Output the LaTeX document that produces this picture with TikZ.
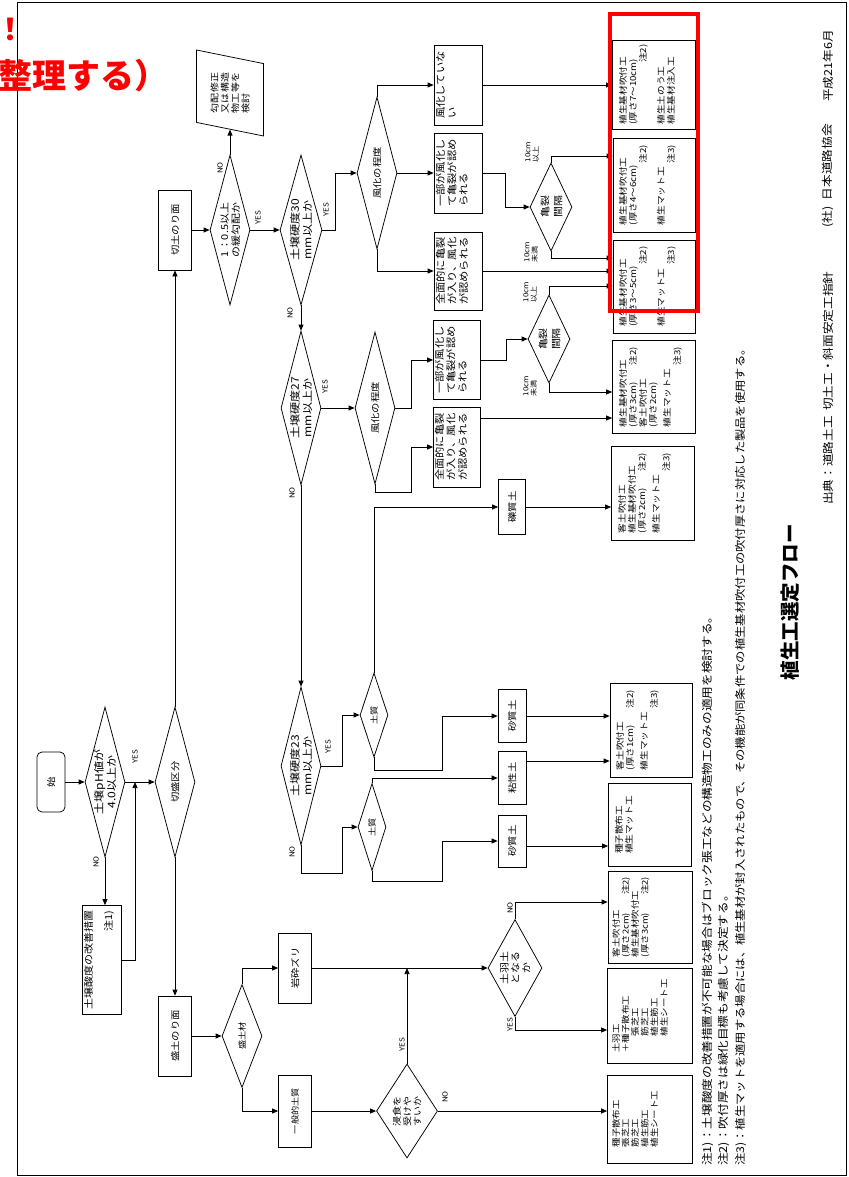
\documentclass[tikz,border=0pt]{standalone}
\usepackage{fontspec}
\setmainfont{Noto Sans CJK JP}[FakeStretch=1.15]
\newfontfamily\plainfont{Noto Sans CJK JP}
\usetikzlibrary{shapes.geometric,arrows.meta}
\newcommand\Tc[1]{\raisebox{-0.4em}{\makebox[0pt]{\begin{tabular}{@{}c@{}}#1\end{tabular}}}}
\newcommand\Tl[1]{\raisebox{-0.4em}{\makebox[0pt]{\begin{tabular}{@{}l@{}}#1\end{tabular}}}}
\newcommand\Tt[2]{\raisebox{#1}{\makebox[0pt]{\begin{tabular}[t]{@{}l@{}}#2\end{tabular}}}}
\newcommand\rr[1]{\makebox[80pt][r]{#1}}
\newcommand\lr[2]{\makebox[80pt][l]{#1\hfill#2}}
\tikzset{
  lw/.style={line width=0.75pt},
  sz/.style 2 args={minimum width=#2, minimum height=#1},
  bx/.style={draw, lw, rectangle, rotate=90, inner sep=0pt, text height=0pt, text depth=0pt},
  dm/.style={draw, lw, diamond, rotate=90, inner sep=0pt, text height=0pt, text depth=0pt},
  lb/.style={rotate=90, inner sep=0pt, font=\fontsize{7}{8}\selectfont},
  ar/.style={lw, -{Triangle[length=6pt,width=5pt]}},
  fA/.style={font=\fontsize{8.4}{10}\selectfont},
  fH/.style={font=\fontsize{8.2}{9}\selectfont},
  fB/.style={font=\fontsize{9.8}{11.5}\selectfont},
  fD/.style={font=\fontsize{10.5}{12.5}\selectfont},
  fS/.style={font=\fontsize{9}{11}\selectfont},
  note/.style={rotate=90, anchor=west, inner sep=0pt, font=\fontsize{11}{11}\selectfont},
}
\begin{document}
\begin{tikzpicture}[x=1pt,y=-1pt]
\useasboundingbox (0,0) rectangle (848,1177);
\draw[line width=1pt] (17,3) rectangle (846,1175);

% level coordinates
\coordinate (y156) at (0,156);
\coordinate (y258) at (0,258);
\coordinate (y286) at (0,286);
\coordinate (y392) at (0,392);
\coordinate (y418) at (0,418);
\coordinate (y761) at (0,761);
\coordinate (y846) at (0,846);
\coordinate (y902) at (0,902);
\coordinate (y1030) at (0,1030);
\coordinate (j1) at (135,782);

% left column
\node[bx, rounded corners=5pt, sz={28}{60}, fS] (start) at (51,782) {\Tc{始}};
\node[dm, sz={40}{150}, fD] (ph) at (105,782) {\Tc{土壌pH値が\\4.0以上か}};
\node[dm, sz={40}{150}, fS] (kirimori) at (175,782) {\Tc{切盛区分}};
\node[bx, sz={39}{109}, font=\fontsize{9.6}{12}\selectfont] (kaizen) at (102,960) {\Tt{10pt}{土壌酸度の改善措置\\[8pt]\makebox[99pt][r]{注1)}}};
\node[bx, sz={33}{80}, fS] (kiri) at (175,230) {\Tc{切土のり面}};
\node[bx, sz={33}{80}, fS] (mori) at (175,1036) {\Tc{盛土のり面}};

% cut slope branch
\node[dm, sz={40}{150}, font=\fontsize{9.5}{11}\selectfont] (d05) at (230,230) {\Tc{1：0.5以上\\の緩勾配か}};
\node[draw, lw, trapezium, rotate=90, trapezium left angle=77, trapezium right angle=103,
      trapezium stretches=true, minimum width=86, minimum height=67, inner sep=0pt,
      text height=1pt, text depth=1pt, font=\fontsize{8.7}{10}\selectfont] (para) at (230,93)
      {\makebox[2pt]{\Tl{勾配修正\\又は構造\\物工等を\\検討}}};
\node[dm, sz={42}{150}, fD] (d30) at (301,230) {\Tc{土壌硬度30\\mm以上か}};
\node[dm, sz={40}{152}, fS] (fk1) at (377,173) {\Tc{風化の程度}};
\node[bx, sz={48}{80}, fB] (nashi) at (458,85) {\Tt{14pt}{風化していな\\い}};
\node[bx, sz={48}{80}, fB] (ib1) at (458,173) {\Tt{14pt}{一部が風化し\\て亀裂が認め\\られる}};
\node[bx, sz={48}{78}, fB] (zm1) at (458,271) {\Tt{14pt}{全面的に亀裂\\が入り、風化\\が認められる}};
\node[dm, sz={42}{88}, font=\fontsize{9.5}{13}\selectfont] (kr1) at (551,207) {\Tc{亀裂\\間隔}};

\node[dm, sz={40}{154}, fD] (d27) at (301,408) {\Tc{土壌硬度27\\mm以上か}};
\node[dm, sz={40}{152}, fS] (fk2) at (375,408) {\Tc{風化の程度}};
\node[bx, sz={47}{79}, fB] (ib2) at (457,360) {\Tt{14pt}{一部が風化し\\て亀裂が認め\\られる}};
\node[bx, sz={47}{80}, fB] (zm2) at (457,447) {\Tt{14pt}{全面的に亀裂\\が入り、風化\\が認められる}};
\node[dm, sz={42}{88}, font=\fontsize{9.5}{13}\selectfont] (kr2) at (549,339) {\Tc{亀裂\\間隔}};

\node[dm, sz={40}{158}, fD] (d23) at (301,766) {\Tc{土壌硬度23\\mm以上か}};
\node[dm, sz={28}{84}, font=\fontsize{8}{9}\selectfont] (ds1) at (374,715) {\Tc{土質}};
\node[dm, sz={28}{87}, font=\fontsize{8}{9}\selectfont] (ds2) at (372,827) {\Tc{土質}};
\node[bx, sz={27}{55}, fS] (s1) at (512,507) {\Tc{礫質土}};
\node[bx, sz={28}{53}, fS] (s2) at (512,716) {\Tc{砂質土}};
\node[bx, sz={28}{53}, fS] (s3) at (512,778) {\Tc{粘性土}};
\node[bx, sz={28}{52}, fS] (s4) at (512,841) {\Tc{砂質土}};

% fill slope branch
\node[dm, sz={40}{103}, font=\fontsize{8}{9}\selectfont] (md) at (242,1036) {\Tc{盛土材}};
\node[bx, sz={33}{70}, fS] (gz) at (295,968) {\Tc{岩砕ズリ}};
\node[bx, sz={33}{72}, font=\fontsize{8}{9}\selectfont] (ip) at (295,1111) {\Tc{一般的土質}};
\node[dm, sz={61}{94}, font=\fontsize{8.7}{10}\selectfont] (sh) at (407,1111) {\Tc{浸食を\\受けや\\すいか}};
\node[dm, sz={54}{97}, font=\fontsize{9.5}{11}\selectfont] (dh) at (515,968) {\Tc{土羽土\\となる\\か}};

% result boxes
\node[bx, sz={83}{89}, fA] (A) at (654,84.5) {\Tt{28pt}{植生基材吹付工\\(厚さ7～10cm)\\\rr{注2)}\\[8pt]植生土のう工\\植生基材注入工}};
\node[bx, sz={82}{94}, fA] (B) at (654,185) {\Tt{28pt}{植生基材吹付工\\(厚さ4～6cm)\\\rr{注2)}\\[8pt]植生マット工\\\rr{注3)}}};
\node[bx, sz={82}{93}, fA] (C) at (654,286.5) {\Tt{28pt}{植生基材吹付工\\(厚さ3～5cm)\\\rr{注2)}\\[8pt]植生マット工\\\rr{注3)}}};
\node[bx, sz={83}{93}, fA] (D) at (654,387) {\Tt{28pt}{植生基材吹付工\\\lr{(厚さ3cm)}{注2)}\\客土吹付工\\(厚さ2cm)\\[4pt]植生マット工\\\rr{注3)}}};
\node[bx, sz={83}{94}, fA] (E) at (653,493) {\Tt{28pt}{客土吹付工\\植生基材吹付工\\\lr{(厚さ2cm)}{注2)}\\[4pt]植生マット工\\\rr{注3)}}};
\node[bx, sz={82}{94}, fA] (F) at (651,730) {\Tt{28pt}{客土吹付工\\\lr{(厚さ1cm)}{注2)}\\[4pt]植生マット工\\\rr{注3)}}};
\node[bx, sz={83}{83}, fA] (G) at (650,825) {\Tt{28pt}{種子散布工\\植生マット工}};
\node[bx, sz={84}{92}, fH] (H) at (650,917) {\Tt{31pt}{客土吹付工\\\lr{(厚さ2cm)}{注2)}\\植生基材吹付工\\\lr{(厚さ3cm)}{注2)}}};
\node[bx, sz={85}{95}, fH] (I) at (650,1016) {\Tt{31pt}{土羽工\\＋種子散布工\\\hspace{2em}張芝工\\\hspace{2em}筋芝工\\\hspace{2em}植生筋工\\\hspace{2em}植生シート工}};
\node[bx, sz={85}{88}, fH] (J) at (650,1119) {\Tt{31pt}{種子散布工\\張芝工\\筋芝工\\植生筋工\\植生シート工}};

% connectors
\draw[ar] (start) -- (ph);
\draw[ar] (ph) -- (kirimori);
\draw[ar] (ph.west) -- (ph.west |- kaizen.east);
\draw[ar] (kaizen.south) -| (j1);
\draw[ar] (kirimori.east) -- (kiri.west);
\draw[ar] (kirimori.west) -- (mori.east);
\draw[ar] (kiri) -- (d05);
\draw[ar] (d05) -- (para);
\draw[ar] (d05) -- (d30);
\draw[ar] (d30.south) -- ++(13,0) |- (fk1.north);
\draw[ar] (fk1) -- (ib1);
\draw[ar] (fk1.east) |- (nashi.north);
\draw[ar] (fk1.west) |- (zm1.north);
\draw[ar] (ib1.south) -- ++(23,0) |- (kr1.north);
\draw[ar] (kr1.east) |- (B.north |- y156);
\draw[ar] (kr1.west) |- (C.north |- y258);
\draw[ar] (zm1.south) -- (zm1.south -| C.north);
\draw[ar] (nashi.south) -- (nashi.south -| A.north);
\draw[ar] (d30) -- (d27);
\draw[ar] (d27) -- (fk2);
\draw[ar] (fk2.south) -- ++(16,0) |- (ib2.north);
\draw[ar] (fk2.west) -- ++(0,8) -- ++(36,0) |- (zm2.north);
\draw[ar] (ib2.south) -- ++(25,0) |- (kr2.north);
\draw[ar] (kr2.east) |- (C.north |- y286);
\draw[ar] (kr2.west) |- (D.north |- y392);
\draw[ar] (zm2.south |- y418) -- (D.north |- y418);
\draw[ar] (d27) -- (d23);
\draw[ar] (d23.south) -- ++(21,0) |- (ds1.north);
\draw[ar] (ds1.east) |- (s1.north);
\draw[ar] (ds1.west) -- ++(0,13) -- ++(68,0) |- (s2.north);
\draw[ar] (d23.west) -- ++(0,28) -- ++(41,0) |- (ds2.north);
\draw[ar] (ds2.east) |- (s3.north);
\draw[ar] (ds2.west) -- ++(0,10) -- ++(70,0) |- (s4.north);
\draw[ar] (s1) -- (s1 -| E.north);
\draw[ar] (s2) -- (s2 -| F.north);
\draw[ar] (s3.south |- y761) -- (F.north |- y761);
\draw[ar] (s4.south |- y846) -- (G.north |- y846);
\draw[ar] (mori) -- (md);
\draw[ar] (md.east) |- (gz.north);
\draw[ar] (md.west) |- (ip.north);
\draw[ar] (ip) -- (sh);
\draw[ar] (sh.east) -- (sh.east |- gz);
\draw[ar] (gz) -- (dh);
\draw[ar] (dh.east) |- (H.north |- y902);
\draw[ar] (dh.west) |- (I.north |- y1030);
\draw[ar] (sh) -- (sh -| J.north);

% branch labels
\node[lb] (l1) at (135,757) {YES};
\node[lb] (l2) at (96,862) {NO};
\node[lb] (l3) at (220,168) {NO};
\node[lb] (l4) at (258,218) {YES};
\node[lb] (l5) at (326,210) {YES};
\node[lb] (l6) at (290,313) {NO};
\node[lb] (l7) at (325,387) {YES};
\node[lb] (l8) at (292,493) {NO};
\node[lb] (l9) at (328,747) {YES};
\node[lb] (l10) at (292,852) {NO};
\node[lb] (l11) at (402,1045) {YES};
\node[lb] (l12) at (445,1097) {NO};
\node[lb] (l13) at (510,908) {NO};
\node[lb] (l14) at (510,1025) {YES};
\node[lb, align=left] (k1) at (532,152) {10cm\\以上};
\node[lb, align=left] (k2) at (531,252) {10cm\\未満};
\node[lb, align=left] (k3) at (530,292) {10cm\\以上};
\node[lb, align=left] (k4) at (530,386) {10cm\\未満};

% notes, title, source
\node[note] (n1) at (708,1166) {注1)：土壌酸度の改善措置が不可能な場合はブロック張工などの構造物工のみの適用を検討する。};
\node[note] (n2) at (724,1166) {注2)：吹付厚さは緑化目標も考慮して決定する。};
\node[note, font=\fontsize{10.7}{11}\selectfont] (n3) at (741,1166) {注3)：植生マットを適用する場合には、植生基材が封入されたもので、その機能が同条件での植生基材吹付工の吹付厚さに対応した製品を使用する。};
\node[rotate=90, inner sep=0pt, font=\plainfont\fontsize{19.5}{20}\selectfont\bfseries] (title) at (790,602) {植生工選定フロー};
\node[note] (src1) at (828,505) {出典：道路土工\hspace{0.5em}切土工・斜面安定工指針};
\node[note] (src2) at (828,228) {(社)\hspace{0.6em}日本道路協会};
\node[note] (src3) at (828,102) {平成21年6月};

% red annotation
\draw[red, line width=4pt] (610,14) rectangle (698,311);
\node[text=red, inner sep=0pt, font=\plainfont\fontsize{30}{30}\selectfont\bfseries] (ex) at (10,29) {！};
\node[text=red, anchor=west, inner sep=0pt, font=\plainfont\fontsize{34}{34}\selectfont\bfseries] (seiri) at (-2,76) {整理する）};
\end{tikzpicture}
\end{document}
